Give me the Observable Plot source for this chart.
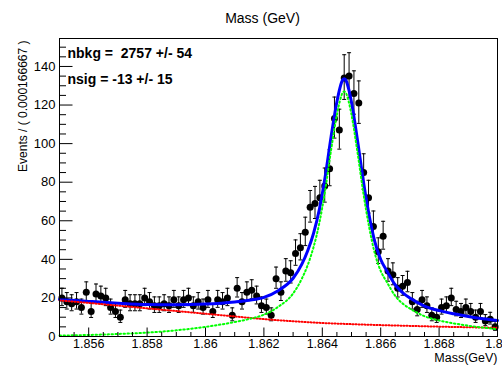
<!DOCTYPE html>
<html>
<head>
<meta charset="utf-8">
<script src="https://cdn.jsdelivr.net/npm/d3@7"></script>
<script src="https://cdn.jsdelivr.net/npm/@observablehq/plot@0.6"></script>
<style>
  html, body { margin: 0; padding: 0; background: #fff; }
  #chart svg { display: block; }
</style>
</head>
<body>
<div id="chart"></div>
<script>
// Mass spectrum: 90 bins of 0.000166667 GeV between 1.855 and 1.870 GeV
const massLow = 1.855;
const massHigh = 1.870;
const nBins = 90;
const yMax = 154.5;

// Events per bin
const counts = [
  20, 18, 17, 18, 15, 23, 13, 22, 21, 20,
  15, 13, 10, 19, 17, 17, 17, 20, 18, 16,
  16, 17, 16, 19, 16, 19, 20, 16, 18, 15,
  19, 13, 19, 18, 20, 11, 25, 18, 23, 24,
  21, 16, 15, 11, 30, 23, 34, 33, 43, 46,
  54, 67, 69, 72, 78, 87, 113, 107, 134, 135,
  126, 121, 85, 72, 57, 44, 52, 34, 32, 25,
  26, 28, 18, 14, 19, 16, 11, 10, 15, 16,
  20, 14, 13, 15, 13, 10, 13, 8, 9, 5
];

// Fitted model, sampled along the mass axis
const curveMass = [
  1.855, 1.856, 1.857, 1.858, 1.859, 1.860, 1.861, 1.8615, 1.862, 1.8625,
  1.863, 1.8633, 1.8635, 1.8637, 1.8639, 1.8641, 1.8643, 1.8645, 1.8646, 1.8647,
  1.86475, 1.8648, 1.8649, 1.865, 1.8652, 1.8654, 1.8656, 1.8658, 1.866, 1.8662,
  1.8665, 1.8668, 1.867, 1.8675, 1.868, 1.8685, 1.869, 1.8695, 1.870
];
const totalPdf = [
  19.2, 18.2, 17.3, 16.6, 16.4, 16.8, 17.9, 18.8, 20.3, 23.9,
  30.2, 37.5, 44.5, 53.5, 66.0, 83.0, 103.5, 121.7, 128.7, 133.1,
  133.6, 133.1, 128.5, 121.4, 102.3, 81.2, 63.1, 49.0, 39.9, 34.3,
  26.7, 22.1, 20.0, 15.8, 13.4, 11.75, 10.4, 9.25, 8.3
];
const signalPdf = [
  0.5, 0.8, 1.3, 2.0, 3.2, 5.0, 7.5, 9.1, 11.3, 15.5,
  22.3, 30.0, 37.0, 46.3, 58.9, 76.0, 96.6, 115.0, 122.0, 126.5,
  127.0, 126.5, 122.0, 115.0, 96.0, 75.0, 57.0, 43.0, 34.0, 28.5,
  21.0, 16.5, 14.5, 10.5, 8.3, 6.8, 5.6, 4.6, 3.8
];
const bkgMass = [
  1.855, 1.856, 1.857, 1.858, 1.859, 1.860, 1.861, 1.862, 1.863, 1.864,
  1.865, 1.866, 1.867, 1.868, 1.869, 1.870
];
const bkgPdf = [
  18.7, 17.4, 16.0, 14.6, 13.2, 11.8, 10.4, 9.0, 7.9, 7.0,
  6.4, 5.9, 5.5, 5.1, 4.8, 4.5
];

// Fit results shown in the parameter box
const paramNbkg = "nbkg =\u00a0 2757 +/- 54";
const paramNsig = "nsig = -13 +/- 15";

// Axis ticks and labels
const xTickValues = [1.856, 1.858, 1.86, 1.862, 1.864, 1.866, 1.868, 1.87];
const xTickLabels = ["1.856", "1.858", "1.86", "1.862", "1.864", "1.866", "1.868", "1.87"];
const yTickValues = [0, 20, 40, 60, 80, 100, 120, 140];
const yTickLabels = ["0", "20", "40", "60", "80", "100", "120", "140"];

const titleText = "Mass (GeV)";
const xTitle = "Mass(GeV)";
const yTitle = "Events / ( 0.000166667 )";

// Data points with Poisson-style asymmetric error bars
const binWidth = (massHigh - massLow) / nBins;
const points = counts.map((n, i) => {
  const s = Math.sqrt(n + 0.25);
  return {m: massLow + (i + 0.5) * binWidth, n, lo: n - (s - 0.5), hi: n + (s + 0.5)};
});
const model = curveMass.map((m, i) => ({m, total: totalPdf[i], sig: signalPdf[i]}));
const bkg = bkgMass.map((m, i) => ({m, v: bkgPdf[i]}));

const xTicks = xTickValues.map((v, i) => ({v, label: xTickLabels[i]}));
const yTicks = yTickValues.map((v, i) => ({v, label: yTickLabels[i]}));
const xMinor = d3.range(0, 31).map(k => massLow + k * 0.0005).filter(v => !xTickValues.some(t => Math.abs(t - v) < 1e-7));
const yMinor = d3.range(5, 155, 5).filter(v => v % 20 !== 0);

// Short straight tick drawn by the vector mark (no arrow head)
const tickOpts = {r: 0, stroke: "#000", strokeWidth: 1, strokeLinecap: "butt", anchor: "start"};
const textOpts = {fill: "#000", stroke: null};

const chart = Plot.plot({
  width: 502,
  height: 367,
  marginLeft: 59,
  marginRight: 5,
  marginTop: 38,
  marginBottom: 31,
  style: {fontFamily: "'Liberation Sans', Arial, Helvetica, sans-serif", background: "#fff", color: "#000"},
  x: {domain: [massLow, massHigh], axis: null},
  y: {domain: [0, yMax], axis: null},
  marks: [
    // data
    Plot.ruleX(points, {x: "m", y1: "lo", y2: "hi", stroke: "#000", strokeWidth: 1}),
    Plot.vector(points, {x: "m", y: "hi", length: 4, rotate: 90, r: 0, anchor: "middle", stroke: "#000", strokeWidth: 1, strokeLinecap: "butt"}),
    Plot.vector(points, {x: "m", y: "lo", length: 4, rotate: 90, r: 0, anchor: "middle", stroke: "#000", strokeWidth: 1, strokeLinecap: "butt"}),
    Plot.dot(points, {x: "m", y: "n", r: 3.5, fill: "#000", stroke: null}),
    // total model
    Plot.line(model, {x: "m", y: "total", stroke: "#0000ff", strokeWidth: 3, curve: "monotone-x"}),
    // background component
    Plot.line(bkg, {x: "m", y: "v", stroke: "#ff0000", strokeWidth: 2, strokeDasharray: "1,2", curve: "monotone-x"}),
    // signal component
    Plot.line(model, {x: "m", y: "sig", stroke: "#00ff00", strokeWidth: 2, strokeDasharray: "1.5,2.5", curve: "monotone-x"}),
    // frame
    Plot.frame({stroke: "#000", strokeWidth: 1}),
    // ticks, drawn inward from the axes
    Plot.vector(xTicks, {x: "v", frameAnchor: "bottom", length: 9, rotate: 0, ...tickOpts}),
    Plot.vector(xMinor, {x: d => d, frameAnchor: "bottom", length: 4.5, rotate: 0, ...tickOpts}),
    Plot.vector(yTicks, {y: "v", frameAnchor: "left", length: 13, rotate: 90, ...tickOpts}),
    Plot.vector(yMinor, {y: d => d, frameAnchor: "left", length: 6.5, rotate: 90, ...tickOpts}),
    // tick labels
    Plot.text(xTicks, {x: "v", text: "label", frameAnchor: "bottom", lineAnchor: "top", dy: 3, fontSize: 12.5, ...textOpts}),
    Plot.text(yTicks, {y: "v", text: "label", frameAnchor: "left", textAnchor: "end", dx: -4, fontSize: 13, ...textOpts}),
    // titles
    Plot.text([titleText], {frameAnchor: "top", dx: -16, dy: -25, fontSize: 14, ...textOpts}),
    Plot.text([xTitle], {frameAnchor: "bottom-right", textAnchor: "end", lineAnchor: "top", dy: 17, fontSize: 12.5, ...textOpts}),
    Plot.text([yTitle], {frameAnchor: "top-left", textAnchor: "end", rotate: -90, dx: -41, dy: 2, fontSize: 12, ...textOpts}),
    // fit parameters
    Plot.text([paramNbkg], {frameAnchor: "top-left", textAnchor: "start", dx: 8, dy: 10, fontSize: 14, fontWeight: "bold", ...textOpts}),
    Plot.text([paramNsig], {frameAnchor: "top-left", textAnchor: "start", dx: 8, dy: 36, fontSize: 14, fontWeight: "bold", ...textOpts})
  ]
});
document.getElementById("chart").appendChild(chart);
</script>
</body>
</html>
